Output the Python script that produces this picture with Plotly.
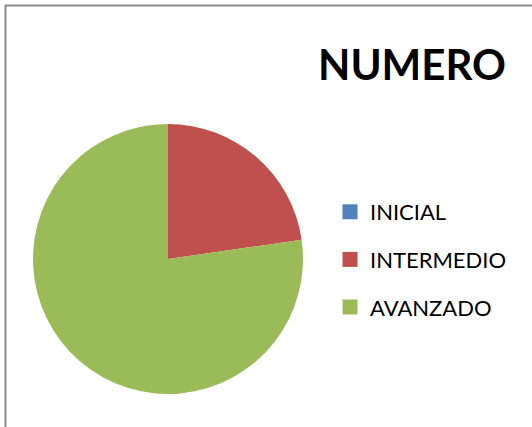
import plotly.graph_objects as go

labels = ["INICIAL", "INTERMEDIO", "AVANZADO"]
values = [0, 5, 17]
colors = ["#4F81BD", "#C0504D", "#9BBB59"]
title_text = "NUMERO"

W, H = 532, 427

fig = go.Figure()
fig.add_trace(go.Pie(
    labels=labels, values=values, sort=False, direction="clockwise", rotation=0,
    marker=dict(colors=colors, line=dict(width=0)),
    textinfo="none", hoverinfo="label+value", showlegend=False,
    domain=dict(x=[33 / W, 303 / W], y=[33 / H, 303 / H]),
))
for lab, col in zip(labels, colors):
    fig.add_trace(go.Scatter(
        x=[None], y=[None], mode="markers", name=lab, legendgroup=lab,
        marker=dict(symbol="square", size=15, color=col),
    ))

fig.update_layout(
    width=W, height=H,
    margin=dict(l=0, r=0, t=0, b=0),
    paper_bgcolor="white", plot_bgcolor="white",
    xaxis=dict(visible=False), yaxis=dict(visible=False),
    title=dict(text="<b>" + title_text + "</b>", x=412 / W, xanchor="center",
               y=1 - 65 / H, yanchor="middle",
               font=dict(family="Lato", size=42, color="black")),
    legend=dict(x=330 / W, xanchor="left", y=1 - 191 / H, yanchor="top",
                font=dict(family="Lato", size=22, color="black"),
                tracegroupgap=16, bgcolor="rgba(0,0,0,0)"),
    shapes=[dict(type="rect", xref="paper", yref="paper",
                 x0=5.5 / W, x1=1.2, y0=-0.2, y1=1 - 5.5 / H,
                 line=dict(color="#8c8c8c", width=2), layer="above")],
)

fig.write_html("out.html", config={"displayModeBar": False},
               post_script="document.body.style.margin='0';document.body.style.overflow='hidden';")
